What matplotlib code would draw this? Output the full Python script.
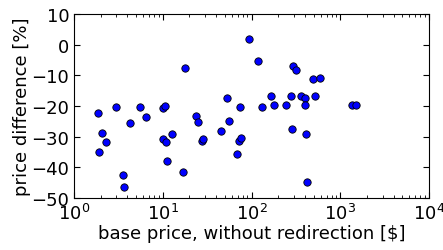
import matplotlib
matplotlib.use("Agg")
import matplotlib.pyplot as plt
import numpy as np

base_price = [1.85, 1.90, 2.09, 2.32, 2.95, 3.54, 3.70, 4.25, 5.55, 6.43,
              10.1, 10.6, 10.1, 10.9, 12.7, 11.1, 16.8, 17.7, 23.4, 25.2,
              28.0, 28.7, 45.1, 52.7, 56.5, 74.5, 68.4, 73.2, 75.2,
              94.6, 117, 130, 166, 181, 247, 279, 288, 296, 317, 364,
              404, 397, 408, 419, 497, 525, 598, 1356, 1517]
price_diff = [-22.3, -35.0, -28.9, -31.8, -20.4, -42.4, -46.5, -25.4, -20.3, -23.6,
              -20.5, -20.1, -30.7, -31.6, -29.2, -37.9, -41.5, -7.7, -23.4, -25.1,
              -31.5, -30.9, -28.3, -17.4, -25.0, -20.2, -35.8, -31.5, -30.4,
              1.7, -5.2, -20.2, -16.6, -19.6, -19.6, -16.6, -27.4, -7.1, -8.3, -16.6,
              -17.3, -19.6, -29.2, -44.7, -11.3, -16.6, -10.8, -19.6, -19.6]

fig = plt.figure(figsize=(4.43, 2.51), dpi=100)
ax = fig.add_axes([74/443, 1-199/251, 355/443, 184/251])
ax.scatter(base_price, price_diff, s=28, c="#0000ff", edgecolors="black",
           linewidths=0.6, zorder=3)
ax.set_xscale("log")
ax.set_xlim(1, 1e4)
ax.set_ylim(-50, 10)
ax.set_yticks(np.arange(-50, 11, 10))
ax.tick_params(which="both", direction="in", top=True, right=True, labelsize=13)
ax.tick_params(which="major", length=4)
ax.tick_params(which="minor", length=2)
ax.set_xlabel("base price, without redirection [$]", fontsize=13, labelpad=1)
ax.set_ylabel("price difference [%]", fontsize=13, labelpad=0)
fig.savefig("out.png", dpi=100)
